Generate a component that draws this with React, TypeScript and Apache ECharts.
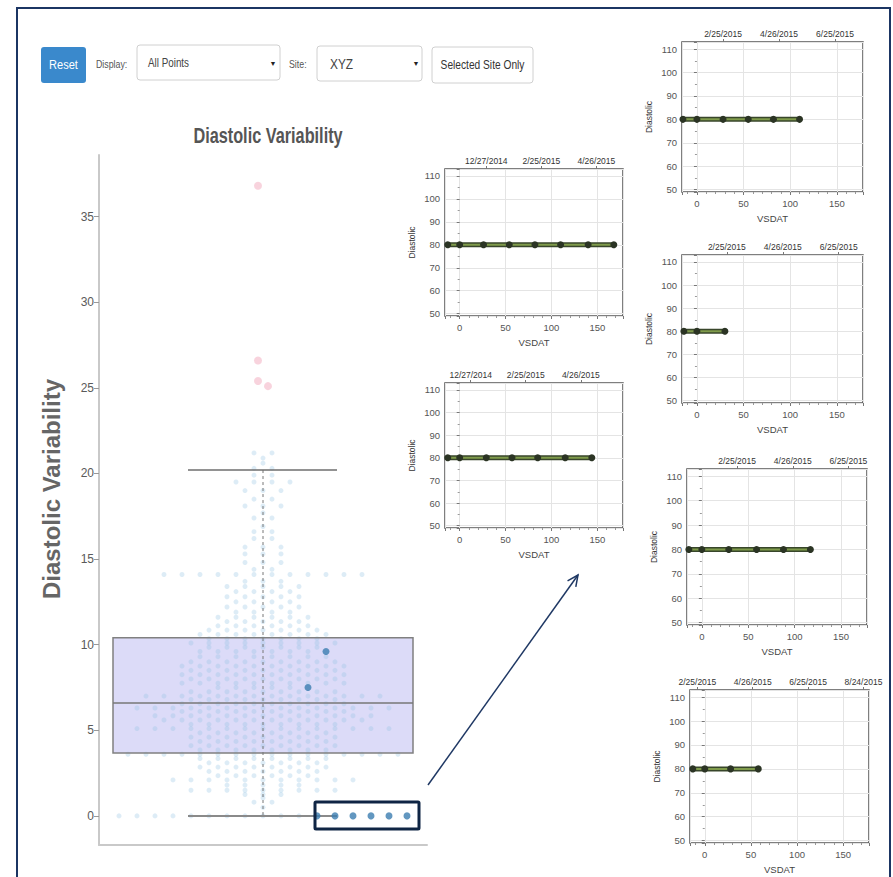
import React, { useEffect, useRef } from "react";
import * as echarts from "echarts";

const SANS = "'Liberation Sans', Arial, sans-serif";

// ---------------- Main chart data ----------------
const mainTitle = "Diastolic Variability";
const mainYTicks = [0, 5, 10, 15, 20, 25, 30, 35];
// min, Q1, median, Q3, max (whisker ends)
const boxStats = [0, 3.67, 6.6, 10.4, 20.2];
// Beeswarm rows: value level and number of (non-selected) points in that row
const levels = [
  0, 0.5, 0.8, 1.05, 1.25, 1.5, 1.8, 2.1, 2.35, 2.6, 2.85, 3.1, 3.35, 3.6, 3.85, 4.1, 4.35, 4.6, 4.85,
  5.1, 5.35, 5.6, 5.85, 6.1, 6.3, 6.55, 6.8, 7.0, 7.25, 7.5, 7.75, 8.0, 8.25, 8.5, 8.75, 9.0, 9.3,
  9.6, 9.85, 10.1, 10.35, 10.6, 10.85, 11.1, 11.35, 11.6, 11.9, 12.2, 12.5, 12.8, 13.1, 13.4, 13.7,
  14.1, 14.4, 14.8, 15.3, 15.7, 16.2, 16.6, 16.9, 17.4, 17.7, 18.1, 18.5, 19.0, 19.5, 19.9, 20.3,
  20.6, 20.9, 21.2,
];
const counts = [
  11, 1, 2, 1, 3, 9, 5, 11, 6, 7, 8, 7, 8, 16, 8, 9, 8, 9, 8,
  15, 9, 12, 13, 10, 15, 10, 9, 14, 9, 5, 10, 9, 10, 9, 10, 9, 8,
  7, 7, 9, 7, 8, 7, 6, 5, 6, 4, 5, 4, 5, 4, 5, 3,
  12, 2, 3, 3, 3, 2, 2, 1, 2, 1, 3, 2, 3, 4, 2, 2,
  1, 1, 2,
];
// values of the selected site's subject (highlighted)
const selectedValues = [0, 0, 0, 0, 0, 0, 7.5, 9.6];
const outlierValues = [36.8, 26.6, 25.4, 25.1];

// ---------------- Small panel data ----------------
const diastolicValue = 80;
const panel1Vsdat = [-13, 0, 26, 54, 82, 110, 140, 168];
const panel2Vsdat = [-13, 0, 29, 57, 85, 115, 144];
const panel3Vsdat = [-15, 0, 28, 55, 82, 110];
const panel4Vsdat = [-14, 0, 30];
const panel5Vsdat = [-14, 0, 29, 59, 88, 117];
const panel6Vsdat = [-13, 0, 28, 58];
const panelDay0 = ["11/28/2014", "12/15/2014", "1/28/2015", "1/24/2015", "1/18/2015", "3/5/2015"];
const dateTicks = ["12/27/2014", "2/25/2015", "4/26/2015", "6/25/2015", "8/24/2015"];

const panelVsdat = [panel1Vsdat, panel2Vsdat, panel3Vsdat, panel4Vsdat, panel5Vsdat, panel6Vsdat];

// layout (styling)
const MAIN_GRID = { left: 99, top: 155, width: 328, height: 690 };
const X_HALF = 164;
const Y_MIN = -1.7;
const Y_MAX = 38.6;
const ROW_SPACING = 18;
const PANEL_GRIDS = [
  { left: 445, top: 169, width: 178, height: 147 },
  { left: 445, top: 383, width: 178, height: 145 },
  { left: 682, top: 42, width: 181, height: 150 },
  { left: 682, top: 255, width: 181, height: 148 },
  { left: 687, top: 469, width: 180, height: 156 },
  { left: 690, top: 690, width: 179, height: 153 },
];
const P_XMIN = -16;
const P_XMAX = 178;
const P_YMIN = 49;
const P_YMAX = 113;

function parseDate(s: string) {
  const [m, d, y] = s.split("/").map(Number);
  return Date.UTC(y, m - 1, d);
}

function buildSwarm() {
  const bg: number[][] = [];
  const sel: number[][] = [];
  levels.forEach((v, i) => {
    const nSel = selectedValues.filter((s) => s === v).length;
    const total = counts[i] + nSel;
    for (let j = 0; j < total; j++) {
      const off = (j - (total - 1) / 2) * ROW_SPACING;
      (j >= counts[i] ? sel : bg).push([off, v]);
    }
  });
  const pxPerUnit = MAIN_GRID.height / (Y_MAX - Y_MIN);
  const out: number[][] = [];
  outlierValues.forEach((v) => {
    const cands = [-5, 5, -14, 14];
    let off = 0;
    for (const c of cands) {
      if (!out.some((p) => Math.hypot(p[0] - c, (p[1] - v) * pxPerUnit) < 9)) {
        off = c;
        break;
      }
    }
    out.push([off, v]);
  });
  return { bg, sel, out };
}

function buildOption() {
  const { bg, sel, out } = buildSwarm();

  const grids: any[] = [{ ...MAIN_GRID }];
  const xAxes: any[] = [
    {
      gridIndex: 0,
      type: "value",
      min: -X_HALF,
      max: X_HALF,
      axisLine: { show: true, onZero: false, lineStyle: { color: "#c9c9c9", width: 2 } },
      axisTick: { show: false },
      axisLabel: { show: false },
      splitLine: { show: false },
    },
  ];
  const yAxes: any[] = [
    {
      gridIndex: 0,
      type: "value",
      min: Y_MIN,
      max: Y_MAX,
      axisLine: { show: true, onZero: false, lineStyle: { color: "#c9c9c9", width: 2 } },
      axisTick: { show: true, length: 5, customValues: mainYTicks, lineStyle: { color: "#999" } },
      axisLabel: { customValues: mainYTicks, color: "#5a5a5a", fontSize: 12, fontFamily: SANS, margin: 5 },
      splitLine: { show: false },
      name: "Diastolic Variability",
      nameLocation: "middle",
      nameGap: 36,
      nameTextStyle: { fontSize: 24, fontWeight: "bold", color: "#666", fontFamily: SANS, padding: [0, 0, 0, 22] },
    },
  ];

  const series: any[] = [
    {
      type: "custom",
      name: "boxFill",
      xAxisIndex: 0,
      yAxisIndex: 0,
      z: 1,
      silent: true,
      data: [boxStats],
      renderItem: (params: any, api: any) => {
        const q1 = api.value(1);
        const q3 = api.value(3);
        const tl = api.coord([-150, q3]);
        const br = api.coord([150, q1]);
        return {
          type: "rect",
          shape: { x: tl[0], y: tl[1], width: br[0] - tl[0], height: br[1] - tl[1] },
          style: { fill: "#dcdbf8", stroke: "none" },
        };
      },
    },
    {
      type: "scatter",
      name: "All Points",
      xAxisIndex: 0,
      yAxisIndex: 0,
      z: 2,
      symbolSize: 5,
      itemStyle: { color: "rgba(150,195,228,0.4)" },
      data: bg,
    },
    {
      type: "custom",
      name: "boxLines",
      xAxisIndex: 0,
      yAxisIndex: 0,
      z: 3,
      silent: true,
      data: [boxStats],
      renderItem: (params: any, api: any) => {
        const mn = api.value(0);
        const q1 = api.value(1);
        const md = api.value(2);
        const q3 = api.value(3);
        const mx = api.value(4);
        const tl = api.coord([-150, q3]);
        const br = api.coord([150, q1]);
        const mL = api.coord([-150, md]);
        const mR = api.coord([150, md]);
        const wTop = api.coord([0, mx]);
        const wBot = api.coord([0, mn]);
        const capTL = api.coord([-75, mx]);
        const capTR = api.coord([74, mx]);
        const capBL = api.coord([-75, mn]);
        const capBR = api.coord([74, mn]);
        const line = (a: number[], b: number[], style: any) => ({
          type: "line",
          shape: { x1: a[0], y1: a[1], x2: b[0], y2: b[1] },
          style,
        });
        return {
          type: "group",
          children: [
            {
              type: "rect",
              shape: { x: tl[0], y: tl[1], width: br[0] - tl[0], height: br[1] - tl[1] },
              style: { fill: "none", stroke: "#808080", lineWidth: 1.5 },
            },
            line(mL, mR, { stroke: "#777", lineWidth: 1.5 }),
            line(wTop, wBot, { stroke: "#777", lineWidth: 1, lineDash: [3, 3] }),
            line(capTL, capTR, { stroke: "#6e6e6e", lineWidth: 1.5 }),
            line(capBL, capBR, { stroke: "#8a8a8a", lineWidth: 2 }),
          ],
        };
      },
    },
    {
      type: "scatter",
      name: "Outliers",
      xAxisIndex: 0,
      yAxisIndex: 0,
      z: 4,
      symbolSize: 8,
      itemStyle: { color: "#f6c8d4" },
      data: out,
    },
    {
      type: "scatter",
      name: "Selected Site",
      xAxisIndex: 0,
      yAxisIndex: 0,
      z: 5,
      symbolSize: 7,
      itemStyle: { color: "#3b7db0" },
      data: sel,
    },
  ];

  PANEL_GRIDS.forEach((g, i) => {
    grids.push({ ...g, show: true, borderColor: "#555", borderWidth: 1.5, backgroundColor: "#fff" });
    const gi = i + 1;
    const day0 = parseDate(panelDay0[i]);
    const tickMap: Record<string, string> = {};
    const tickVals: number[] = [];
    dateTicks.forEach((d) => {
      const v = Math.round((parseDate(d) - day0) / 86400000);
      if (v >= P_XMIN && v <= P_XMAX) {
        tickVals.push(v);
        tickMap[String(v)] = d;
      }
    });
    xAxes.push({
      gridIndex: gi,
      type: "value",
      position: "bottom",
      min: P_XMIN,
      max: P_XMAX,
      splitNumber: 4,
      axisLine: { show: false },
      axisTick: { show: true, length: 3, lineStyle: { color: "#777" } },
      minorTick: { show: true, splitNumber: 5, length: 2, lineStyle: { color: "#999" } },
      axisLabel: { color: "#555", fontSize: 9.5, fontFamily: SANS, margin: 6, showMinLabel: false, showMaxLabel: false },
      splitLine: { show: true, lineStyle: { color: "#e4e4e4" } },
      name: "VSDAT",
      nameLocation: "middle",
      nameGap: 21,
      nameTextStyle: { fontSize: 9.5, color: "#444", fontFamily: SANS },
    });
    xAxes.push({
      gridIndex: gi,
      type: "value",
      position: "top",
      min: P_XMIN,
      max: P_XMAX,
      axisLine: { show: false },
      axisTick: { show: true, length: 3, customValues: tickVals, lineStyle: { color: "#777" } },
      axisLabel: {
        customValues: tickVals,
        color: "#333",
        fontSize: 8.5,
        fontFamily: SANS,
        margin: 4,
        formatter: (v: number) => tickMap[String(Math.round(v))] || "",
      },
      splitLine: { show: false },
    });
    yAxes.push({
      gridIndex: gi,
      type: "value",
      min: P_YMIN,
      max: P_YMAX,
      splitNumber: 6,
      axisLine: { show: false },
      axisTick: { show: true, length: 3, lineStyle: { color: "#777" } },
      minorTick: { show: true, splitNumber: 2, length: 2, lineStyle: { color: "#999" } },
      axisLabel: { color: "#555", fontSize: 9.5, fontFamily: SANS, margin: 5, showMinLabel: false, showMaxLabel: false },
      splitLine: { show: true, lineStyle: { color: "#e4e4e4" } },
      name: "Diastolic",
      nameLocation: "middle",
      nameGap: 29,
      nameTextStyle: { fontSize: 8.5, color: "#333", fontFamily: SANS },
    });
    const pts = panelVsdat[i].map((x) => [x, diastolicValue]);
    series.push({
      type: "line",
      name: "outline" + gi,
      xAxisIndex: 1 + 2 * i,
      yAxisIndex: gi,
      data: pts,
      symbol: "none",
      silent: true,
      z: 2,
      lineStyle: { color: "#38462b", width: 5 },
    });
    series.push({
      type: "line",
      name: "Diastolic " + gi,
      xAxisIndex: 1 + 2 * i,
      yAxisIndex: gi,
      data: pts,
      symbol: "circle",
      symbolSize: 7,
      z: 3,
      itemStyle: { color: "#2b3424" },
      lineStyle: { color: "#7f9b4b", width: 2 },
    });
  });

  // arrow geometry
  const ax1 = 428, ay1 = 785, ax2 = 578, ay2 = 575;
  const len = Math.hypot(ax2 - ax1, ay2 - ay1);
  const bx = (ax1 - ax2) / len, by = (ay1 - ay2) / len;
  const ang = (25 * Math.PI) / 180;
  const c = Math.cos(ang), s = Math.sin(ang);
  const h1 = [ax2 + 12 * (bx * c - by * s), ay2 + 12 * (bx * s + by * c)];
  const h2 = [ax2 + 12 * (bx * c + by * s), ay2 + 12 * (-bx * s + by * c)];

  const txt = (x: number, y: number, text: string, style: any, scaleX = 0.82) => ({
    type: "text",
    x,
    y,
    scaleX,
    style: { text, fontFamily: SANS, verticalAlign: "middle", ...style },
  });

  const graphic: any[] = [
    {
      type: "rect",
      shape: { x: 17, y: 8, width: 873, height: 900 },
      style: { fill: "none", stroke: "#1b3563", lineWidth: 2 },
      z: 100,
    },
    // main title (horizontally condensed like the source)
    txt(268, 135, mainTitle, { fill: "#555", fontSize: 22, fontWeight: "bold", align: "center" }, 0.74),
    { type: "rect", shape: { x: 41, y: 47, width: 45, height: 36, r: 3 }, style: { fill: "#3a89cc" } },
    txt(63.5, 65, "Reset", { fill: "#fff", fontSize: 13, align: "center" }, 0.85),
    txt(96, 64, "Display:", { fill: "#555", fontSize: 11 }, 0.8),
    { type: "rect", shape: { x: 137, y: 45, width: 143, height: 35, r: 3 }, style: { fill: "#fff", stroke: "#d0d0d0", lineWidth: 1 } },
    txt(148, 63, "All Points", { fill: "#444", fontSize: 12 }, 0.82),
    txt(273, 63, "▼", { fill: "#222", fontSize: 7, align: "center" }, 1),
    txt(289, 64, "Site:", { fill: "#555", fontSize: 11 }, 0.8),
    { type: "rect", shape: { x: 317, y: 46, width: 105, height: 35, r: 3 }, style: { fill: "#fff", stroke: "#d0d0d0", lineWidth: 1 } },
    txt(330, 64, "XYZ", { fill: "#444", fontSize: 14 }, 0.85),
    txt(416, 63, "▼", { fill: "#222", fontSize: 7, align: "center" }, 1),
    { type: "rect", shape: { x: 432, y: 47, width: 101, height: 36, r: 3 }, style: { fill: "#fff", stroke: "#d0d0d0", lineWidth: 1 } },
    txt(482.5, 65, "Selected Site Only", { fill: "#333", fontSize: 12, align: "center" }, 0.85),
    {
      type: "rect",
      shape: { x: 315, y: 802, width: 104, height: 27, r: 1 },
      style: { fill: "none", stroke: "#0f2544", lineWidth: 3 },
      z: 100,
    },
    {
      type: "line",
      shape: { x1: ax1, y1: ay1, x2: ax2, y2: ay2 },
      style: { stroke: "#1f3864", lineWidth: 1.5 },
      z: 100,
    },
    {
      type: "polyline",
      shape: { points: [h1, [ax2, ay2], h2] },
      style: { stroke: "#1f3864", lineWidth: 1.5, fill: "none" },
      z: 100,
    },
  ];

  return {
    animation: false,
    backgroundColor: "#fff",
    grid: grids,
    xAxis: xAxes,
    yAxis: yAxes,
    series,
    graphic,
  };
}

export default function App() {
  const ref = useRef<HTMLDivElement>(null);
  useEffect(() => {
    if (!ref.current) return;
    const chart = echarts.init(ref.current, undefined, { renderer: "svg" });
    chart.setOption(buildOption() as any);
    return () => chart.dispose();
  }, []);
  return (
    <div
      ref={ref}
      style={{ position: "fixed", left: 0, top: 0, width: 893, height: 877, background: "#fff" }}
    />
  );
}
